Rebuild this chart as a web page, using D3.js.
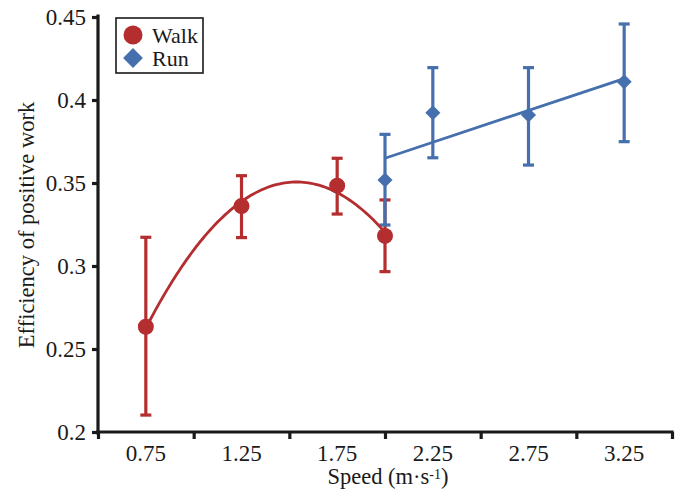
<!DOCTYPE html>
<html>
<head>
<meta charset="utf-8">
<script src="https://cdn.jsdelivr.net/npm/d3@7"></script>
<style>
  body { margin: 0; background: #fff; }
  svg text { font-family: "Liberation Serif", "Times New Roman", serif; fill: #1a1a1a; }
</style>
</head>
<body>
<div id="chart"></div>
<script>
// speeds (m/s) and efficiency of positive work, mean with lower / upper error
const walkSpeed = [0.75, 1.25, 1.75, 2.0];
const walkMean = [0.2634, 0.3361, 0.3484, 0.3181];
const walkLow = [0.2102, 0.3171, 0.3313, 0.2966];
const walkHigh = [0.3173, 0.3544, 0.3649, 0.3398];

const runSpeed = [2.0, 2.25, 2.75, 3.25];
const runMean = [0.3518, 0.3923, 0.3910, 0.4110];
const runLow = [0.3247, 0.3652, 0.3608, 0.3749];
const runHigh = [0.3793, 0.4195, 0.4195, 0.4458];

const xTickLabels = [0.75, 1.25, 1.75, 2.25, 2.75, 3.25];
const yTickValues = [0.2, 0.25, 0.3, 0.35, 0.4, 0.45];

const width = 683, height = 494;
const red = '#b42d2f', blue = '#4670ad', ink = '#1a1a1a';

const svg = d3.select('#chart').append('svg')
    .attr('width', width)
    .attr('height', height);

const x = d3.scaleLinear().domain([0.5, 3.5]).range([98, 672]);
const y = d3.scaleLinear().domain([0.2, 0.45]).range([432, 17]);

// least squares polynomial fit (degree 1 or 2)
function polyFit(xs, ys, deg) {
    const n = deg + 1;
    let A = [], b = [];
    for (let i = 0; i < n; i++) {
        A.push([]);
        for (let j = 0; j < n; j++) A[i].push(d3.sum(xs, v => Math.pow(v, i + j)));
        b.push(d3.sum(xs, (v, k) => Math.pow(v, i) * ys[k]));
    }
    // gaussian elimination
    for (let i = 0; i < n; i++) {
        for (let k = i + 1; k < n; k++) {
            const f = A[k][i] / A[i][i];
            for (let j = i; j < n; j++) A[k][j] -= f * A[i][j];
            b[k] -= f * b[i];
        }
    }
    const c = new Array(n).fill(0);
    for (let i = n - 1; i >= 0; i--) {
        let s = b[i];
        for (let j = i + 1; j < n; j++) s -= A[i][j] * c[j];
        c[i] = s / A[i][i];
    }
    return v => c.reduce((acc, ci, i) => acc + ci * Math.pow(v, i), 0);
}

const walk = walkSpeed.map((s, i) => ({ s, m: walkMean[i], lo: walkLow[i], hi: walkHigh[i] }));
const run = runSpeed.map((s, i) => ({ s, m: runMean[i], lo: runLow[i], hi: runHigh[i] }));

// axes
const xAxis = svg.append('g')
    .attr('transform', `translate(0,${y(0.2)})`)
    .call(d3.axisBottom(x).tickValues(d3.range(0.5, 3.51, 0.5)).tickSize(7).tickFormat(''));
xAxis.select('.domain').attr('d', `M${x(0.5)},0H${x(3.5)}`);
xAxis.selectAll('text').remove();
xAxis.append('g').selectAll('text')
    .data(xTickLabels)
    .join('text')
    .attr('x', d => x(d))
    .attr('y', 29)
    .attr('text-anchor', 'middle')
    .style('font-size', '23px')
    .text(d => d);

const yAxis = svg.append('g')
    .attr('transform', `translate(${x(0.5)},0)`)
    .call(d3.axisLeft(y).tickValues(yTickValues).tickSize(6).tickPadding(6).tickFormat(d3.format('')));
yAxis.select('.domain').attr('d', `M0,${y(0.45) - 1}V${y(0.2) + 1}`);
yAxis.selectAll('text').style('font-size', '23px').attr('fill', ink).attr('font-family', null);

svg.selectAll('.domain').attr('stroke', ink).attr('stroke-width', 3.2).attr('stroke-linecap', 'square');
svg.selectAll('.tick line').attr('stroke', ink).attr('stroke-width', 3.2);

// axis titles
svg.append('text')
    .attr('transform', `translate(34,${225}) rotate(-90)`)
    .attr('text-anchor', 'middle')
    .style('font-size', '22.5px')
    .text('Efficiency of positive work');

const xt = svg.append('text')
    .attr('x', 388)
    .attr('y', 484)
    .attr('text-anchor', 'middle')
    .style('font-size', '22.5px');
xt.append('tspan').text('Speed (m·s');
xt.append('tspan').attr('baseline-shift', '35%').style('font-size', '14px').text('-1');
xt.append('tspan').text(')');

// error bars
function errorBars(data, color) {
    const g = svg.append('g').attr('stroke', color).attr('stroke-width', 3.2);
    g.selectAll('line.bar').data(data).join('line')
        .attr('x1', d => x(d.s)).attr('x2', d => x(d.s))
        .attr('y1', d => y(d.lo)).attr('y2', d => y(d.hi));
    g.selectAll('line.capHi').data(data).join('line')
        .attr('x1', d => x(d.s) - 5.5).attr('x2', d => x(d.s) + 5.5)
        .attr('y1', d => y(d.hi)).attr('y2', d => y(d.hi));
    g.selectAll('line.capLo').data(data).join('line')
        .attr('x1', d => x(d.s) - 5.5).attr('x2', d => x(d.s) + 5.5)
        .attr('y1', d => y(d.lo)).attr('y2', d => y(d.lo));
}
errorBars(walk, red);
errorBars(run, blue);

// fitted lines
const walkFit = polyFit(walkSpeed, walkMean, 2);
const runFit = polyFit(runSpeed, runMean, 1);

const walkCurve = d3.range(0, 101).map(i => {
    const s = d3.min(walkSpeed) + (d3.max(walkSpeed) - d3.min(walkSpeed)) * i / 100;
    return [s, walkFit(s)];
});
svg.append('path')
    .attr('d', d3.line().x(d => x(d[0])).y(d => y(d[1]))(walkCurve))
    .attr('fill', 'none').attr('stroke', red).attr('stroke-width', 2.8);

const runLine = [d3.min(runSpeed), d3.max(runSpeed)].map(s => [s, runFit(s)]);
svg.append('path')
    .attr('d', d3.line().x(d => x(d[0])).y(d => y(d[1]))(runLine))
    .attr('fill', 'none').attr('stroke', blue).attr('stroke-width', 2.8);

// markers
svg.append('g').selectAll('circle').data(walk).join('circle')
    .attr('cx', d => x(d.s)).attr('cy', d => y(d.m)).attr('r', 8)
    .attr('fill', red);

const diamond = d3.symbol().type(d3.symbolDiamond2).size(145);
svg.append('g').selectAll('path').data(run).join('path')
    .attr('transform', d => `translate(${x(d.s)},${y(d.m)})`)
    .attr('d', diamond)
    .attr('fill', blue);

// legend
const legend = svg.append('g').attr('transform', 'translate(116,18)');
legend.append('rect')
    .attr('width', 87).attr('height', 55)
    .attr('fill', '#fff').attr('stroke', ink).attr('stroke-width', 1.6);
legend.append('circle').attr('cx', 17).attr('cy', 17).attr('r', 9.5).attr('fill', red);
legend.append('path').attr('transform', 'translate(17,40)')
    .attr('d', d3.symbol().type(d3.symbolDiamond2).size(250)).attr('fill', blue);
legend.append('text').attr('x', 36).attr('y', 25).style('font-size', '22px').text('Walk');
legend.append('text').attr('x', 36).attr('y', 48).style('font-size', '22px').text('Run');
</script>
</body>
</html>
